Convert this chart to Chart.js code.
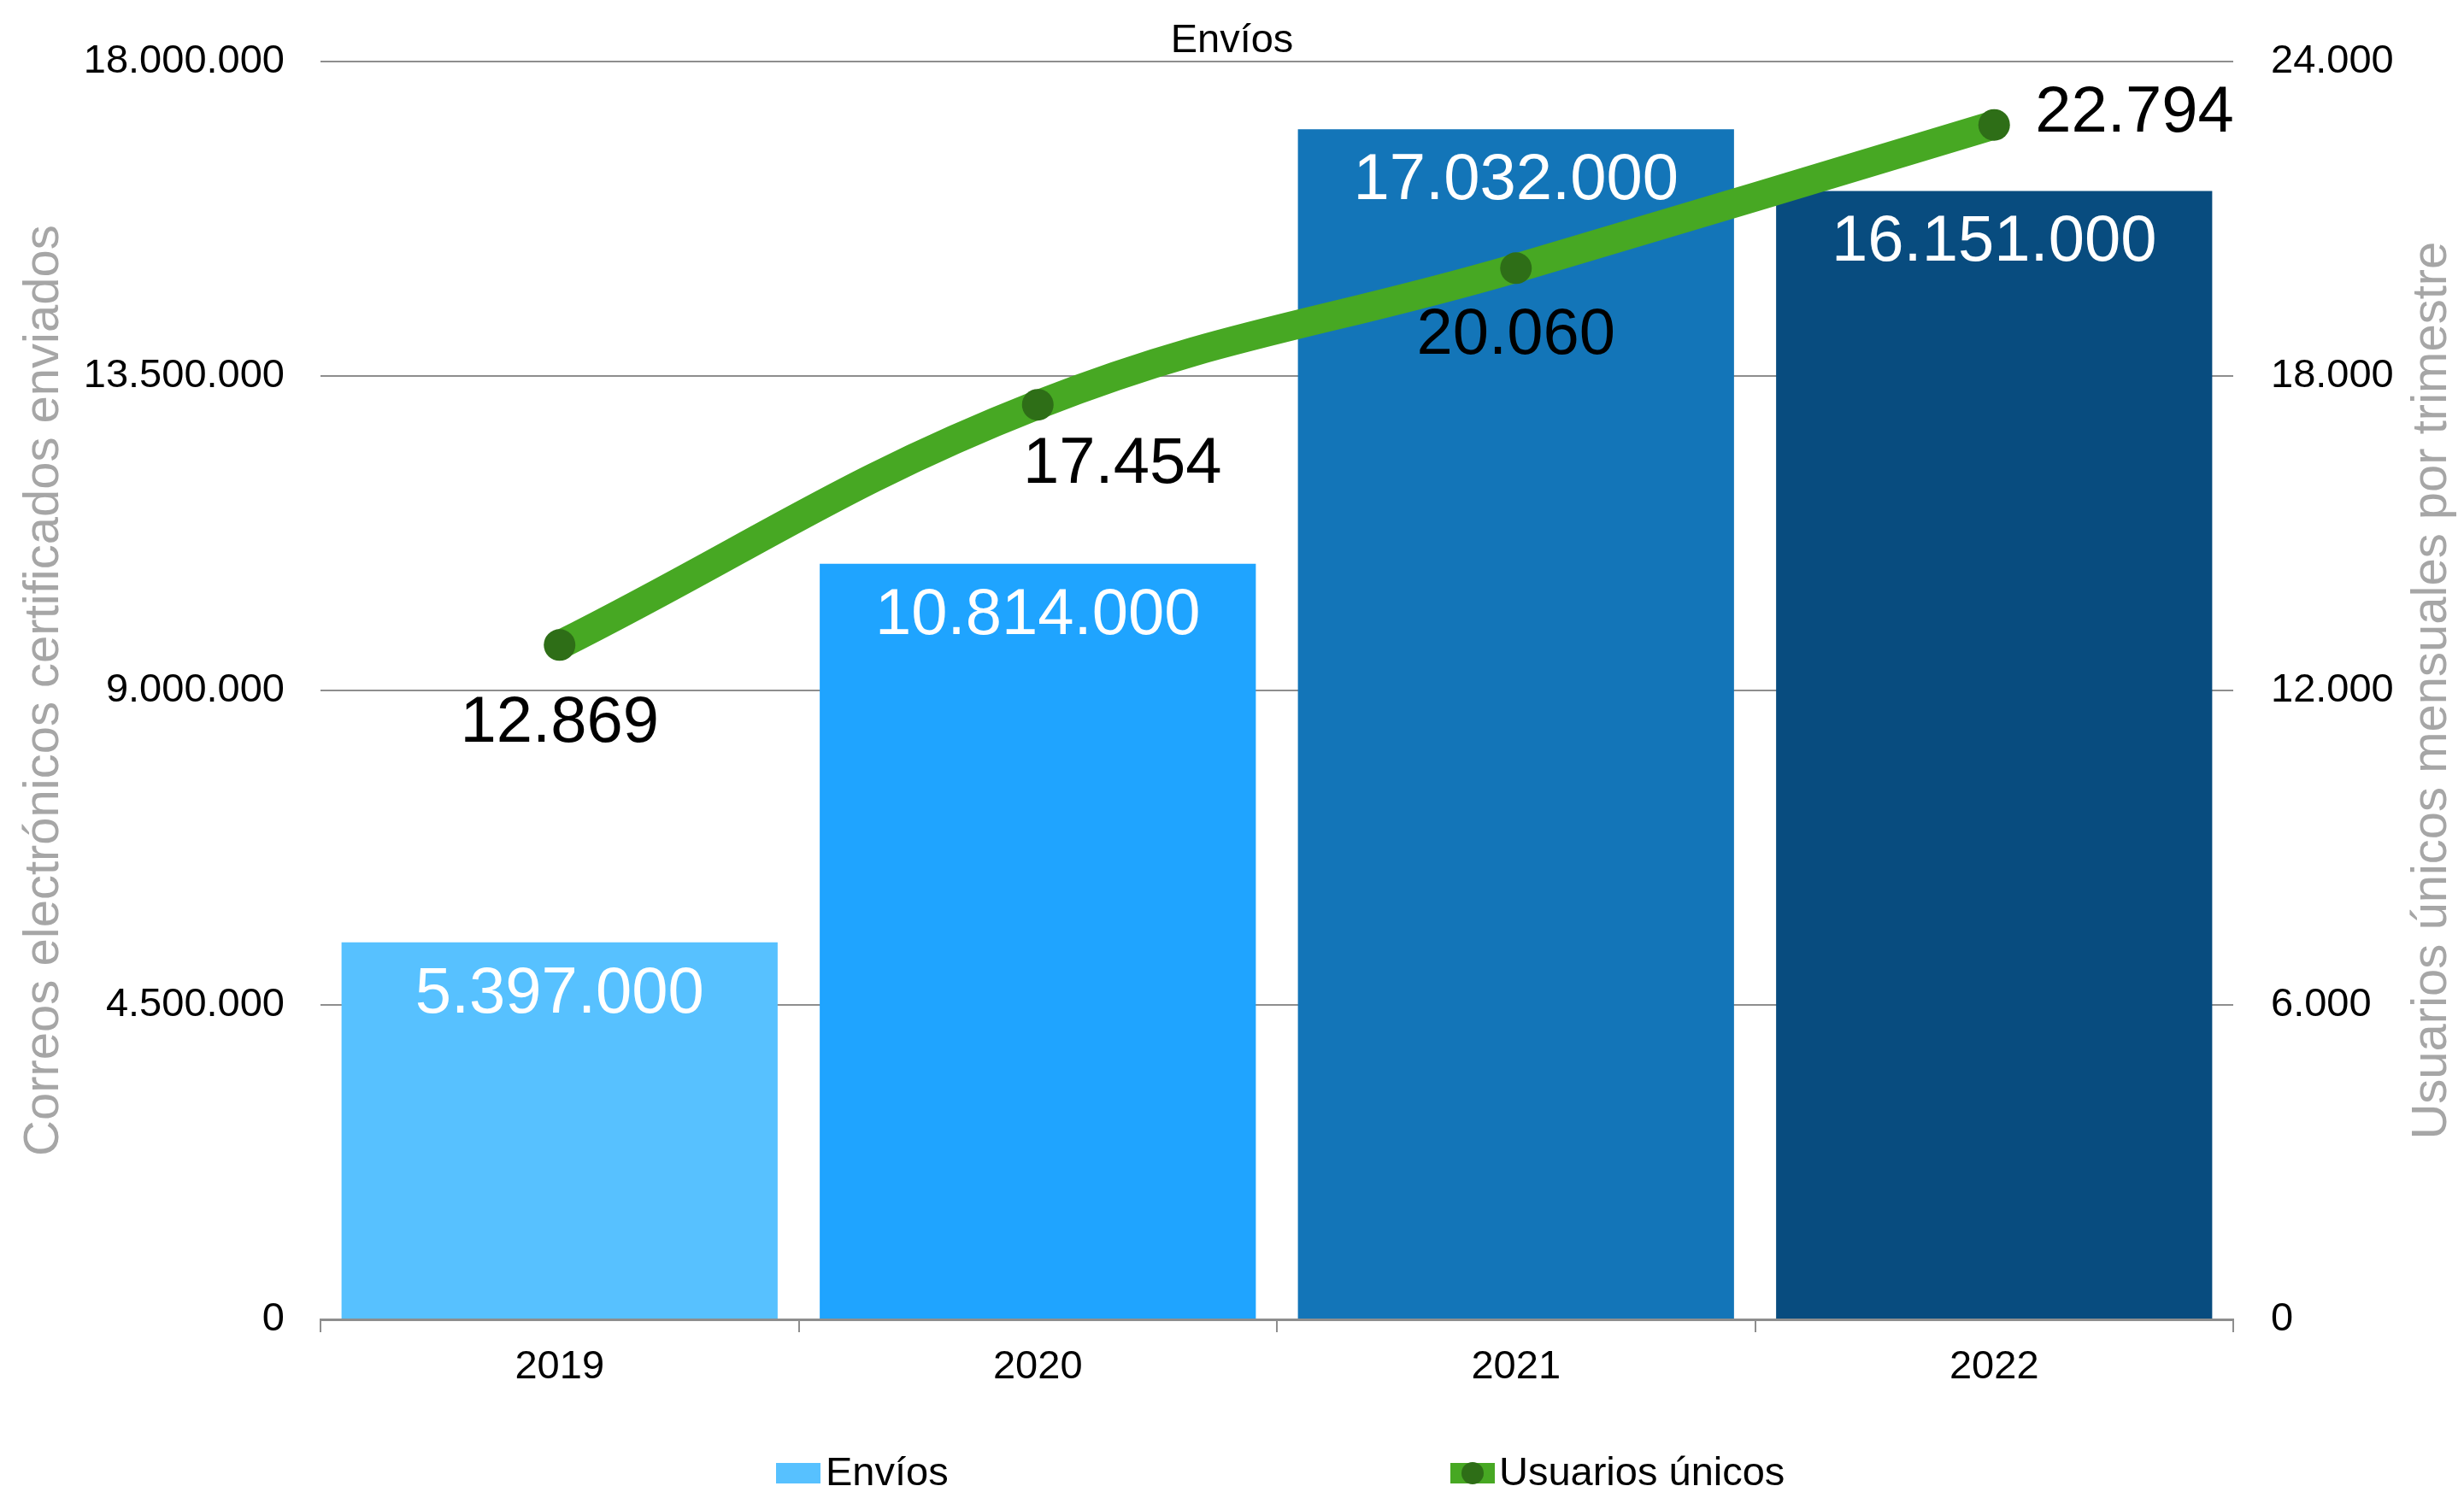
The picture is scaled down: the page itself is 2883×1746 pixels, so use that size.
<!DOCTYPE html>
<html lang="es">
<head>
<meta charset="utf-8">
<title>Envíos</title>
<script src="https://cdn.jsdelivr.net/npm/chart.js@4.4.0/dist/chart.umd.min.js"></script>
<style>
  html, body { margin: 0; padding: 0; background: #fff; }
  #wrap { width: 2883px; height: 1746px; }
</style>
</head>
<body>
<div id="wrap"><canvas id="chart" width="2883" height="1746"></canvas></div>
<script>
// Datos
const years = ['2019', '2020', '2021', '2022'];
const envios = [5397000, 10814000, 17032000, 16151000];
const usuarios = [12869, 17454, 20060, 22794];
const leftTicks = [0, 4500000, 9000000, 13500000, 18000000];
const rightTicks = [0, 6000, 12000, 18000, 24000];

// Colores
const barColors = ['#57C1FF', '#1FA4FF', '#1375B8', '#084C7F'];
const lineColor = '#47A823';
const pointColor = '#2E6E17';
const gridColor = '#8E8E8E';
const titleGray = '#A6A6A6';
const FONT = '"Liberation Sans", Arial, sans-serif';

// Posición de las etiquetas de la línea respecto a cada punto
const lineLabelPos = [
  { dx: 0, dy: 92, align: 'center' },
  { dx: 99, dy: 70, align: 'center' },
  { dx: 0, dy: 79, align: 'center' },
  { dx: 48, dy: -13, align: 'left' }
];

// 12869 -> "12.869"
const fmt = v => String(Math.round(v)).replace(/\B(?=(\d{3})+(?!\d))/g, '.');

Chart.defaults.font.family = FONT;

// Etiquetas de valores sobre barras y puntos
const valueLabels = {
  id: 'valueLabels',
  afterDatasetsDraw(chart) {
    const ctx = chart.ctx;
    ctx.save();
    ctx.font = `76px ${FONT}`;
    ctx.textBaseline = 'middle';
    chart.getDatasetMeta(0).data.forEach((bar, i) => {
      ctx.fillStyle = '#fff';
      ctx.textAlign = 'center';
      ctx.fillText(fmt(envios[i]), bar.x, bar.y + 61);
    });
    chart.getDatasetMeta(1).data.forEach((pt, i) => {
      const o = lineLabelPos[i];
      ctx.fillStyle = '#000';
      ctx.textAlign = o.align;
      ctx.fillText(fmt(usuarios[i]), pt.x + o.dx, pt.y + o.dy);
    });
    ctx.restore();
  }
};

// Título del eje derecho (girado como el izquierdo) y leyenda
const extras = {
  id: 'extras',
  afterDraw(chart) {
    const ctx = chart.ctx;
    const area = chart.chartArea;
    const ds = chart.data.datasets;
    ctx.save();

    ctx.translate(2846, (area.top + area.bottom) / 2);
    ctx.rotate(-Math.PI / 2);
    ctx.font = `58px ${FONT}`;
    ctx.fillStyle = titleGray;
    ctx.textAlign = 'center';
    ctx.textBaseline = 'middle';
    ctx.fillText('Usuarios únicos mensuales por trimestre', 0, 0);
    ctx.setTransform(1, 0, 0, 1, 0, 0);

    ctx.font = `47px ${FONT}`;
    ctx.textAlign = 'left';
    ctx.textBaseline = 'alphabetic';

    ctx.fillStyle = barColors[0];
    ctx.fillRect(908, 1712, 52, 24);
    ctx.fillStyle = '#000';
    ctx.fillText(ds[0].label, 966, 1738);

    ctx.fillStyle = lineColor;
    ctx.fillRect(1697, 1712, 52, 24);
    ctx.fillStyle = pointColor;
    ctx.beginPath();
    ctx.arc(1723, 1724, 13, 0, Math.PI * 2);
    ctx.fill();
    ctx.fillStyle = '#000';
    ctx.fillText(ds[1].label, 1754, 1738);

    ctx.restore();
  }
};

new Chart(document.getElementById('chart'), {
  data: {
    labels: years,
    datasets: [
      {
        type: 'bar',
        label: 'Envíos',
        data: envios,
        backgroundColor: barColors,
        yAxisID: 'y',
        order: 2,
        categoryPercentage: 0.912,
        barPercentage: 1
      },
      {
        type: 'line',
        label: 'Usuarios únicos',
        data: usuarios,
        yAxisID: 'y1',
        order: 1,
        borderColor: lineColor,
        borderWidth: 34,
        borderCapStyle: 'round',
        borderJoinStyle: 'round',
        tension: 0.4,
        fill: false,
        pointRadius: 18.5,
        pointBorderWidth: 0,
        pointBackgroundColor: pointColor
      }
    ]
  },
  options: {
    responsive: false,
    animation: false,
    devicePixelRatio: 1,
    layout: { padding: 0 },
    plugins: {
      legend: { display: false },
      tooltip: { enabled: false },
      title: {
        display: true,
        text: 'Envíos',
        color: '#000',
        font: { size: 47, weight: 'normal', lineHeight: 1 },
        padding: { top: 24, bottom: 1 }
      }
    },
    scales: {
      x: {
        offset: true,
        grid: { display: true, drawOnChartArea: false, drawTicks: true, tickLength: 15, color: gridColor, lineWidth: 2, offset: true },
        border: { display: true, color: gridColor, width: 3 },
        ticks: { color: '#000', font: { size: 47 }, padding: 13 },
        afterFit: s => { s.height = 202; }
      },
      y: {
        position: 'left',
        min: leftTicks[0],
        max: leftTicks[leftTicks.length - 1],
        afterBuildTicks: s => { s.ticks = leftTicks.map(value => ({ value })); },
        grid: { color: gridColor, lineWidth: 2, drawTicks: false },
        border: { display: false },
        ticks: { color: '#000', font: { size: 47 }, padding: 42, callback: v => fmt(v) },
        title: {
          display: true,
          text: 'Correos electrónicos certificados enviados',
          color: titleGray,
          font: { size: 58 },
          padding: { top: 17, bottom: 0 }
        },
        afterFit: s => { s.width = 375; }
      },
      y1: {
        position: 'right',
        min: rightTicks[0],
        max: rightTicks[rightTicks.length - 1],
        afterBuildTicks: s => { s.ticks = rightTicks.map(value => ({ value })); },
        grid: { display: false, drawTicks: false },
        border: { display: false },
        ticks: { color: '#000', font: { size: 47 }, padding: 44, callback: v => fmt(v) },
        afterFit: s => { s.width = 270; }
      }
    }
  },
  plugins: [valueLabels, extras]
});
</script>
</body>
</html>
